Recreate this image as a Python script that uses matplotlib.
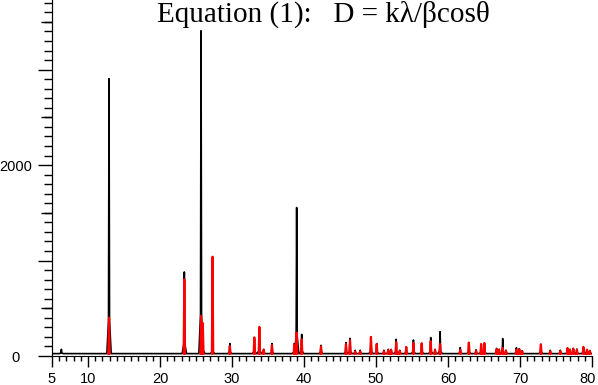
import numpy as np
import matplotlib.pyplot as plt
import matplotlib.transforms as mtransforms
from matplotlib.ticker import MultipleLocator

# peak positions (2theta, degrees) and intensities
peak_pos = [6.3, 12.92, 23.38, 25.7, 25.95, 27.3, 29.7, 33.1, 33.8, 34.4,
            35.55, 38.65, 38.98, 39.68, 42.36, 45.83, 46.39, 47.1, 47.8, 49.3,
            50.1, 51.1, 51.7, 52.1, 52.8, 53.3, 54.2, 55.2, 56.35, 57.6,
            58.2, 58.9, 61.7, 62.9, 63.9, 64.6, 65.05, 66.75, 67.1, 67.6,
            68.05, 69.5, 69.9, 70.3, 72.9, 74.2, 75.6, 76.6, 76.95, 77.4,
            77.9, 78.8, 79.3, 79.7]
black_int = [45, 2880, 855, 3382, 250, 160, 105, 150, 250, 45,
             105, 105, 1530, 202, 87, 115, 160, 35, 35, 175,
             105, 35, 45, 45, 150, 35, 63, 143, 108, 168,
             45, 230, 63, 115, 40, 97, 110, 55, 45, 157,
             35, 62, 52, 30, 97, 35, 35, 60, 45, 55,
             48, 62, 42, 32]
red_int = [0, 377, 778, 395, 320, 1015, 80, 170, 280, 40,
           90, 95, 220, 150, 75, 100, 140, 22, 22, 175,
           100, 25, 38, 38, 120, 28, 70, 110, 108, 130,
           38, 100, 40, 115, 30, 100, 110, 45, 40, 60,
           30, 40, 45, 25, 97, 25, 25, 55, 40, 50,
           40, 70, 40, 30]
baseline = 25

x_ticks = [5, 10, 20, 30, 40, 50, 60, 70, 80]
y_ticks = [0, 1000, 2000, 3000]
y_labels = ['0', '', '2000', '']
title = 'Equation (1):   D = k\u03bb/\u03b2cos\u03b8'


def profile(pos, inten, foot, shoulder):
    # black trace: triangular peaks standing on a continuous baseline
    xs, ys = [5], [baseline]
    for p, h in zip(pos, inten):
        xs += [p - foot, p - shoulder, p, p + shoulder, p + foot]
        ys += [baseline, baseline + 0.12 * h, baseline + h,
               baseline + 0.12 * h, baseline]
    xs.append(80)
    ys.append(baseline)
    return xs, ys


def sticks(pos, inten, foot):
    # red trace: separate narrow peaks, no baseline drawn
    xs, ys = [], []
    for p, h in zip(pos, inten):
        if h <= 0:
            continue
        xs += [p - foot, p, p + foot, np.nan]
        ys += [baseline, baseline + h, baseline, np.nan]
    return xs, ys


fig = plt.figure(figsize=(5.98, 3.85), dpi=100)
ax = fig.add_axes([52 / 598, 29 / 385, 540 / 598, 356 / 385])

bx, by = profile(peak_pos, black_int, 0.3, 0.07)
rx, ry = sticks(peak_pos, red_int, 0.09)
ax.plot(bx, by, color='black', lw=1.2, zorder=2)
ax.plot(rx, ry, color='#ff0000', lw=1.6, zorder=3)

ax.set_xlim(5, 80)
ax.set_ylim(0, 3730)
for s in ['top', 'right']:
    ax.spines[s].set_visible(False)

ax.set_xticks(x_ticks)
ax.xaxis.set_minor_locator(MultipleLocator(1))
ax.set_yticks(y_ticks)
ax.set_yticklabels(y_labels)
ax.yaxis.set_minor_locator(MultipleLocator(100))
ax.tick_params(axis='x', which='major', length=7.7, width=1, pad=4,
               labelsize=10.5)
ax.tick_params(axis='x', which='minor', length=3.6, width=1)
ax.tick_params(axis='y', which='major', length=10, width=1, pad=16,
               labelsize=10.5)
ax.tick_params(axis='y', which='minor', length=5.8, width=1)
for lab in ax.get_xticklabels() + ax.get_yticklabels():
    lab.set_family('Liberation Sans')
for lab in ax.get_yticklabels():
    lab.set_ha('center')
# keep the last x label inside the figure
last = ax.get_xticklabels()[-1]
last.set_transform(last.get_transform()
                   + mtransforms.ScaledTranslation(-4 / 100, 0, fig.dpi_scale_trans))

# medium ticks every 500 on the y axis
sec = ax.secondary_yaxis('left')
sec.set_yticks([500, 1500, 2500, 3500])
sec.tick_params(length=8, width=1, labelleft=False)
sec.yaxis.set_minor_locator(plt.NullLocator())

ax.text(0.194, 0.997, title, transform=ax.transAxes, ha='left', va='top',
        fontsize=21, family='Liberation Serif')

fig.savefig('out.png', dpi=100)
